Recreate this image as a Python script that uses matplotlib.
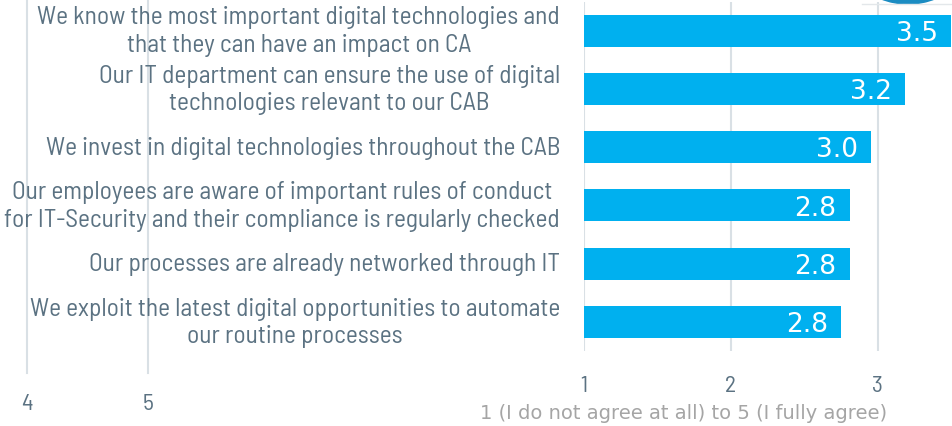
import matplotlib.pyplot as plt
from matplotlib.lines import Line2D
from matplotlib.patches import Ellipse

labels = [
    'We know the most important digital technologies and\nthat they can have an impact on CA',
    'Our IT department can ensure the use of digital\ntechnologies relevant to our CAB',
    'We invest in digital technologies throughout the CAB',
    'Our employees are aware of important rules of conduct\nfor IT-Security and their compliance is regularly checked',
    'Our processes are already networked through IT',
    'We exploit the latest digital opportunities to automate\nour routine processes',
]
values = [3.5, 3.19, 2.955, 2.81, 2.81, 2.75]
value_text = ['3.5', '3.2', '3.0', '2.8', '2.8', '2.8']
xticks = [1, 2, 3]
stray_ticks = ['4', '5']

bar_col = '#00b0ef'
text_col = '#5b7282'
grid_col = '#d9e0e5'
narrow = ['Barlow Semi Condensed', 'Roboto Condensed', 'DejaVu Sans']

W, H = 952, 427
fig = plt.figure(figsize=(W / 100, H / 100), dpi=100)

# main axes: x=1 at px 584, 146.8 px per unit
ax = fig.add_axes([584 / W, 1 - 352 / H, 4 * 146.8 / W, (352 - 3) / H])
ax.set_xlim(1, 5)
ax.set_ylim(5.5, -0.49)
ys = list(range(len(values)))
ax.barh(ys, [v - 1 for v in values], left=1, height=0.55, color=bar_col, zorder=3)
for s in ax.spines.values():
    s.set_visible(False)
ax.set_yticks([])
ax.set_xticks(xticks)
ax.set_xticklabels([str(t) for t in xticks], fontsize=17, color=text_col, family=narrow)
ax.tick_params(axis='x', length=0, pad=17)
for t in xticks:
    ax.axvline(t, color=grid_col, lw=1.5, zorder=1)

for y, v, t in zip(ys, values, value_text):
    ax.text(v - 0.09, y + 0.04, t, ha='right', va='center', color='white',
            fontsize=19, zorder=4)

ytr = ax.get_yaxis_transform()
for y, lab in zip(ys, labels):
    ax.text(-24 / 587.2, y, lab, transform=ytr, ha='right', va='center',
            multialignment='center', fontsize=18.3, color=text_col,
            family=narrow, linespacing=1.25)

fig.text(684 / W, 1 - 414 / H, '1 (I do not agree at all) to 5 (I fully agree)',
         ha='center', va='center', fontsize=14, color='#a5a5a5')

# pieces of the neighbouring chart on the left
for px, t in zip([27, 148], stray_ticks):
    fig.add_artist(Line2D([px / W, px / W], [1, 1 - 374 / H], color=grid_col, lw=1.5,
                          transform=fig.transFigure, zorder=0))
    fig.text(px / W, 1 - 405 / H, t, ha='center', va='center', fontsize=17,
             color=text_col, family=narrow)

# element overlapping from above at top right
fig.add_artist(Line2D([862 / W, 1], [1 - 5 / H, 1 - 5 / H], color='#e3e7ea', lw=1,
                      transform=fig.transFigure))
fig.add_artist(Ellipse((908 / W, 1 + 68 / H), 2 * 73 / W, 2 * 73 / H,
                       color='#1b8cc2', transform=fig.transFigure))

fig.savefig('out.png', dpi=100)
